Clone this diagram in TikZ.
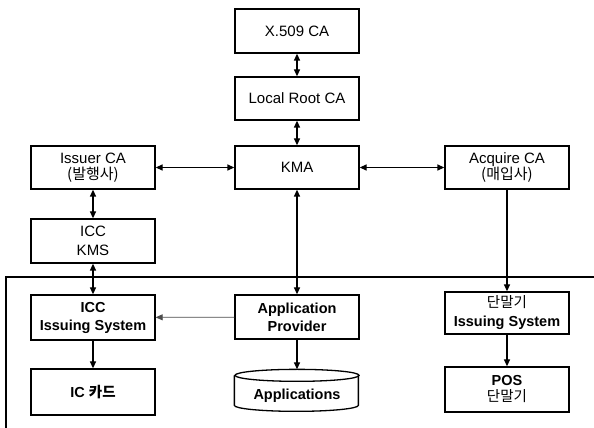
\documentclass[tikz,border=0pt]{standalone}
\usepackage{fontspec}
\setmainfont{Liberation Sans}
\newfontfamily\kr{Noto Sans CJK KR}
\usetikzlibrary{arrows.meta,calc}
\begin{document}
\begin{tikzpicture}[x=1pt,y=1pt,
  box/.style={draw, line width=1.3pt, minimum width=124pt, minimum height=43pt,
    inner sep=0pt, align=center, font=\fontsize{15}{16.5}\selectfont},
  inbox/.style={box, font=\bfseries\fontsize{14.5}{18}\selectfont},
  tip/.tip={Triangle[length=7pt,width=6pt]},
  both/.style={line width=1.3pt, tip-tip},
  one/.style={line width=1.3pt, -tip},
  thin/.style={line width=0.8pt, draw=black!70, -tip},
]
\useasboundingbox (0,0) rectangle (594,428);

% top part
\node[box, minimum height=44pt] (x509) at (297,397) {X.509 CA};
\node[box] (lroot) at (297,329.5) {Local Root CA};
\node[box] (kma) at (297,260.5) {KMA};
\node[box] (issuer) at (93,260.5) {Issuer CA\\{\kr (발행사)}};
\node[box] (acq) at (507,260.5) {Acquire CA\\{\kr (매입사)}};
\node[box, minimum height=44pt, font=\fontsize{15}{19}\selectfont] (icckms) at (93,187) {ICC\\KMS};

% frame
\draw[line width=1.4pt] (594,151) -- (6,151) -- (6,0);

% inner part
\node[inbox, minimum height=45pt] (icciss) at (93,110.5) {ICC\\Issuing System};
\node[inbox, minimum height=44pt] (prov) at (297,111) {Application\\Provider};
\node[inbox, minimum height=42pt, font=\bfseries\fontsize{14.5}{19}\selectfont] (termiss) at (507,115) {{\kr\mdseries 단말기}\\Issuing System};
\node[inbox, minimum height=46pt] (iccard) at (93,36) {IC {\kr 카드}};
\node[inbox, minimum height=45pt, font=\bfseries\fontsize{14.5}{16}\selectfont] (pos) at (507,38.5) {POS\\{\kr\mdseries 단말기}};
\node[inbox, draw=none, minimum height=42pt] (apps) at (297,37) {};
\draw[line width=1.3pt] (apps.north west) ++(0,-6) -- ++(0,-30)
  arc[start angle=180, end angle=360, x radius=62pt, y radius=6pt] -- ++(0,30);
\draw[line width=1.3pt] ($(apps.north)+(0,-6)$) ellipse [x radius=62pt, y radius=6pt];
\node[font=\bfseries\fontsize{14.5}{18}\selectfont] (appstxt) at (297,32) {Applications};

% connectors
\draw[both] (x509) -- (lroot);
\draw[both] (lroot) -- (kma);
\draw[both] (issuer) -- (kma);
\draw[both] (kma) -- (acq);
\draw[both] (issuer) -- (icckms);
\draw[both] (icckms) -- (icciss);
\draw[both] (kma) -- (prov);
\draw[one] (acq) -- (termiss);
\draw[thin] (prov) -- (icciss);
\draw[one] (icciss) -- (iccard);
\draw[one] (prov) -- (apps);
\draw[one] (termiss) -- (pos);
\end{tikzpicture}
\end{document}
